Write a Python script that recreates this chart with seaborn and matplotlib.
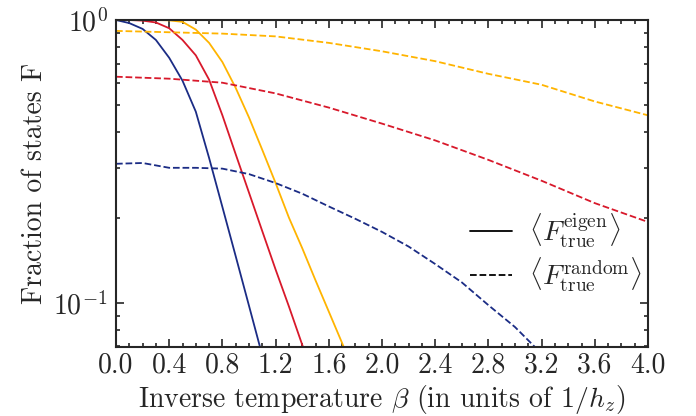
import numpy as np
import pandas as pd
import matplotlib
matplotlib.use("Agg")
import matplotlib.pyplot as plt
import seaborn as sns
from matplotlib.lines import Line2D
from matplotlib.ticker import MultipleLocator, LogLocator, NullFormatter

# ---- data ----
beta_blue_eigen = [0.0, 0.1, 0.2, 0.3, 0.4, 0.5, 0.6, 0.7, 0.8, 0.9, 1.0, 1.1]
F_blue_eigen = [1.0, 0.975, 0.93, 0.85, 0.735, 0.61, 0.474, 0.325, 0.218, 0.146, 0.0975, 0.065]

beta_red_eigen = [0.0, 0.1, 0.2, 0.3, 0.4, 0.5, 0.6, 0.7, 0.8, 0.9, 1.0, 1.1, 1.2, 1.3, 1.4, 1.5]
F_red_eigen = [1.0, 1.0, 0.995, 0.98, 0.935, 0.85, 0.75, 0.615, 0.46, 0.335, 0.245, 0.179,
               0.131, 0.097, 0.071, 0.052]

beta_yellow_eigen = [0.0, 0.1, 0.2, 0.3, 0.4, 0.5, 0.6, 0.7, 0.8, 0.9, 1.0, 1.1, 1.2, 1.3,
                     1.4, 1.5, 1.6, 1.7, 1.8]
F_yellow_eigen = [1.0, 1.0, 1.0, 1.0, 0.997, 0.985, 0.925, 0.83, 0.71, 0.575, 0.452, 0.347,
                  0.265, 0.2, 0.156, 0.12, 0.093, 0.072, 0.055]

beta_random = [0.0, 0.4, 0.8, 1.2, 1.6, 2.0, 2.4, 2.8, 3.2, 3.6, 4.0]
F_yellow_random = [0.915, 0.905, 0.895, 0.875, 0.83, 0.775, 0.715, 0.645, 0.59, 0.515, 0.46]
F_red_random = [0.63, 0.62, 0.60, 0.55, 0.49, 0.43, 0.375, 0.32, 0.27, 0.225, 0.193]

beta_blue_random = [0.0, 0.2, 0.4, 0.6, 0.8, 1.0, 1.2, 1.4, 1.6, 1.8, 2.0, 2.2, 2.4, 2.6,
                    2.8, 3.0, 3.2]
F_blue_random = [0.31, 0.312, 0.30, 0.30, 0.298, 0.285, 0.265, 0.243, 0.219, 0.198, 0.178,
                 0.158, 0.137, 0.118, 0.098, 0.082, 0.066]

xticks = [0.0, 0.4, 0.8, 1.2, 1.6, 2.0, 2.4, 2.8, 3.2, 3.6, 4.0]
legend_labels = [r"$\langle F_{\rm true}^{\rm eigen}\rangle$",
                 r"$\langle F_{\rm true}^{\rm random}\rangle$"]

c_blue = "#1b2c85"
c_red = "#d8192b"
c_yellow = "#ffb400"

# ---- style ----
sns.set_style("ticks")
FS = 20
plt.rcParams.update({
    "font.family": ["cmr10", "DejaVu Serif"],
    "mathtext.fontset": "cm",
    "axes.formatter.use_mathtext": True,
    "font.size": FS,
    "axes.linewidth": 1.5,
    "axes.unicode_minus": False,
})

fig = plt.figure(figsize=(6.96, 4.16), dpi=100)
ax = fig.add_axes([116 / 696, 1 - 347 / 416, (648 - 116) / 696, (347 - 20) / 416])

series = [
    (beta_blue_eigen, F_blue_eigen, c_blue, "-"),
    (beta_red_eigen, F_red_eigen, c_red, "-"),
    (beta_yellow_eigen, F_yellow_eigen, c_yellow, "-"),
    (beta_random, F_yellow_random, c_yellow, "--"),
    (beta_random, F_red_random, c_red, "--"),
    (beta_blue_random, F_blue_random, c_blue, "--"),
]
for b, f, c, ls in series:
    df = pd.DataFrame({"beta": b, "F": f})
    sns.lineplot(data=df, x="beta", y="F", ax=ax, color=c, linestyle=ls, lw=1.3,
                 legend=False)

ax.set_yscale("log")
ax.set_xlim(0, 4)
ax.set_ylim(0.0697, 1.0)
ax.set_xticks(xticks)
ax.set_xticklabels([f"{t:.1f}" for t in xticks])
ax.xaxis.set_minor_locator(MultipleLocator(0.1))
ax.yaxis.set_minor_locator(LogLocator(base=10, subs=np.arange(2, 10)))
ax.yaxis.set_minor_formatter(NullFormatter())
ax.tick_params(which="both", direction="in", top=True, right=True, labelsize=FS, width=1.2)
ax.tick_params(which="major", length=6)
ax.tick_params(which="minor", length=3)
ax.tick_params(axis="x", which="major", pad=4)
ax.tick_params(axis="y", which="major", pad=6)

ax.set_xlabel(r"Inverse temperature $\beta$ (in units of $1/h_z$)", fontsize=FS, labelpad=3)
ax.set_ylabel("Fraction of states F", fontsize=FS, labelpad=4)

handles = [Line2D([], [], color="black", lw=1.3, ls="-"),
           Line2D([], [], color="black", lw=1.3, ls="--")]
ax.legend(handles, legend_labels, loc="lower right", bbox_to_anchor=(1.035, 0.085),
          frameon=False, fontsize=FS, handlelength=1.5, labelspacing=0.2, handletextpad=0.6)

fig.savefig("out.png", dpi=100)
